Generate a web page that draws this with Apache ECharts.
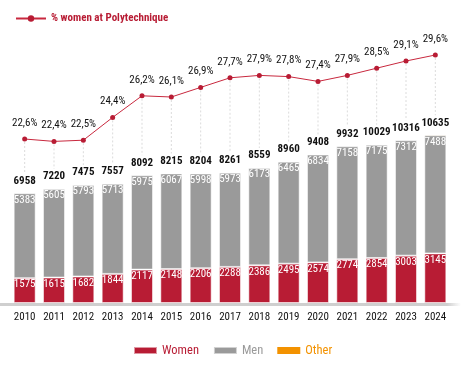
<!DOCTYPE html>
<html><head><meta charset="utf-8">
<script src="https://cdn.jsdelivr.net/npm/echarts@6/dist/echarts.min.js"></script>
<style>html,body{margin:0;padding:0;background:#fff}#c{width:461px;height:369px}</style>
</head><body><div id="c"></div>
<script>
const years = ['2010','2011','2012','2013','2014','2015','2016','2017','2018','2019','2020','2021','2022','2023','2024'];
const women = [1575,1615,1682,1844,2117,2148,2206,2288,2386,2495,2574,2774,2854,3003,3145];
const men = [5383,5605,5793,5713,5975,6067,5998,5973,6173,6465,6834,7158,7175,7312,7488];
const other = [0,0,0,0,0,0,0,0,0,0,0,0,0,1,2];
const totals = [6958,7220,7475,7557,8092,8215,8204,8261,8559,8960,9408,9932,10029,10316,10635];
const pctWomen = [22.6,22.4,22.5,24.4,26.2,26.1,26.9,27.7,27.9,27.8,27.4,27.9,28.5,29.1,29.6];

const FONT = 'Roboto';
const CN = 'condensed', CB = 'bold condensed';
const RED = '#b81c34', GREY = '#9a9a9a', ORANGE = '#f39200', LINE = '#c8283e';
const BMAX = 17942, PMIN = 8.933, PMAX = 32.517;

const chart = echarts.init(document.getElementById('c'), null, {renderer:'canvas'});
chart.setOption({
  animation:false,
  textStyle:{fontFamily:FONT},
  grid:{left:10,right:11,top:20,bottom:66},
  graphic:[{type:'rect',shape:{x:0,y:303,width:461,height:3},z:-1,
    style:{fill:new echarts.graphic.LinearGradient(0,0,1,0,[{offset:0,color:'#cfcfcf'},{offset:0.97,color:'#cfcfcf'},{offset:1,color:'rgba(207,207,207,0)'}])}}],
  legend:[
    {data:[{name:'% women at Polytechnique'}],left:10,top:8,itemWidth:30,itemHeight:8,itemGap:5,
     textStyle:{color:RED,fontWeight:CB,fontSize:11,fontFamily:FONT}},
    {data:[{name:'Women',textStyle:{color:RED}},{name:'Men',textStyle:{color:GREY}},{name:'Other',textStyle:{color:ORANGE}}],
     left:128,top:339,itemWidth:23,itemHeight:7,itemGap:14,icon:'rect',
     textStyle:{fontSize:12.5,fontFamily:FONT,fontWeight:CN}}
  ],
  xAxis:{type:'category',data:years,axisLine:{show:false},axisTick:{show:false},
    axisLabel:{interval:0,color:'#111',fontSize:11,fontFamily:FONT,fontWeight:CN,margin:9}},
  yAxis:[{type:'value',min:0,max:BMAX,show:false},{type:'value',min:PMIN,max:PMAX,show:false}],
  series:[
    {name:'Women',type:'bar',stack:'s',data:women,barWidth:22,
     itemStyle:{color:RED,borderColor:'rgba(255,255,255,0.55)',borderWidth:1},
     label:{show:true,position:'insideTop',distance:1,color:'#fff',textBorderWidth:0,fontSize:11,fontFamily:FONT,fontWeight:CN}},
    {name:'Men',type:'bar',stack:'s',data:men,barWidth:22,
     itemStyle:{color:GREY,borderColor:'rgba(255,255,255,0.55)',borderWidth:1},
     label:{show:true,position:'insideTop',distance:1,color:'#fff',textBorderWidth:0,fontSize:11,fontFamily:FONT,fontWeight:CN}},
    {name:'Other',type:'bar',stack:'s',data:other,barWidth:22,
     itemStyle:{color:ORANGE},
     label:{show:true,position:'top',distance:7,color:'#111',fontWeight:CB,fontSize:11,fontFamily:FONT,
       formatter:p=>String(totals[p.dataIndex])}},
    {name:'guides',type:'custom',yAxisIndex:0,z:1,silent:true,
     data:years.map((y,i)=>[i,totals[i],pctWomen[i]]),
     renderItem:function(params,api){
       const top = api.coord([api.value(0),api.value(1)]);
       const cs = params.coordSys;
       const py = cs.y + cs.height*(PMAX-api.value(2))/(PMAX-PMIN);
       return {type:'line',shape:{x1:top[0],y1:py+3,x2:top[0],y2:top[1]-20},
         style:{stroke:'#dcdcdc',lineWidth:1,lineDash:[2,2]}};
     }},
    {name:'% women at Polytechnique',type:'line',yAxisIndex:1,data:pctWomen,z:5,
     symbol:'circle',symbolSize:5,lineStyle:{color:LINE,width:1},itemStyle:{color:RED},
     label:{show:true,position:'top',distance:8,color:'#111',fontSize:11,fontFamily:FONT,fontWeight:CN,
       formatter:p=>p.value.toFixed(1).replace('.',',')+'%'}}
  ]
});
</script></body></html>
